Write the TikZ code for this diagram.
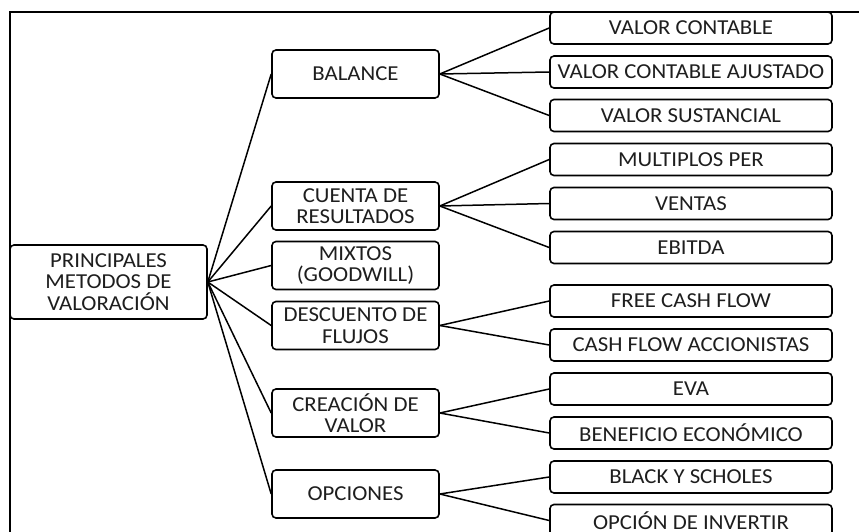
\documentclass[tikz,border=0pt]{standalone}
\usepackage{fontspec}
\setmainfont[FakeStretch=1.07]{Carlito}
\definecolor{txt}{RGB}{30,30,30}
\begin{document}
\begin{tikzpicture}[x=1pt,y=-1pt,
  box/.style={draw=black,line width=1.6pt,rounded corners=4pt,inner sep=0pt,align=center,text=txt,
    font=\fontsize{21.3}{21.5}\selectfont},
  leaf/.style={box,minimum width=282pt,minimum height=32pt},
  mid/.style={box,minimum width=167pt,minimum height=48pt},
  link/.style={line width=1.5pt}]
\useasboundingbox (0,0) rectangle (859,532);
\clip (0,0) rectangle (859,532);
\fill[white] (0,0) rectangle (859,532);
\draw[line width=1.6pt] (10,540) -- (10,12) -- (870,12);
% root
\node[box,minimum width=197pt,minimum height=74pt] (root) at (108.5,282) {PRINCIPALES\\METODOS DE\\VALORACIÓN};
% middle
\node[mid] (bal) at (355.5,74) {BALANCE};
\node[mid] (cue) at (355.5,206) {CUENTA DE\\RESULTADOS};
\node[mid] (mix) at (355.5,265.5) {MIXTOS\\(GOODWILL)};
\node[mid] (des) at (355.5,325.5) {DESCUENTO DE\\FLUJOS};
\node[mid] (cre) at (355.5,413) {CREACIÓN DE\\VALOR};
\node[mid] (opc) at (355.5,494) {OPCIONES};
% leaves
\node[leaf] (l1) at (691,28) {VALOR CONTABLE};
\node[leaf] (l2) at (691,72) {VALOR CONTABLE AJUSTADO};
\node[leaf] (l3) at (691,115.5) {VALOR SUSTANCIAL};
\node[leaf] (l4) at (691,159.5) {MULTIPLOS PER};
\node[leaf] (l5) at (691,203.5) {VENTAS};
\node[leaf] (l6) at (691,247.5) {EBITDA};
\node[leaf] (l7) at (691,301) {FREE CASH FLOW};
\node[leaf] (l8) at (691,345) {CASH FLOW ACCIONISTAS};
\node[leaf] (l9) at (691,389) {EVA};
\node[leaf] (l10) at (691,433) {BENEFICIO ECONÓMICO};
\node[leaf] (l11) at (691,477) {BLACK Y SCHOLES};
\node[leaf] (l12) at (691,520.5) {OPCIÓN DE INVERTIR};
% connectors
\foreach \m in {bal,cue,mix,des,cre,opc}
  \draw[link] (root.east) -- (\m.west);
\foreach \l in {l1,l2,l3} \draw[link] (bal.east) -- (\l.west);
\foreach \l in {l4,l5,l6} \draw[link] (cue.east) -- (\l.west);
\foreach \l in {l7,l8} \draw[link] (des.east) -- (\l.west);
\foreach \l in {l9,l10} \draw[link] (cre.east) -- (\l.west);
\foreach \l in {l11,l12} \draw[link] (opc.east) -- (\l.west);
\end{tikzpicture}
\end{document}
